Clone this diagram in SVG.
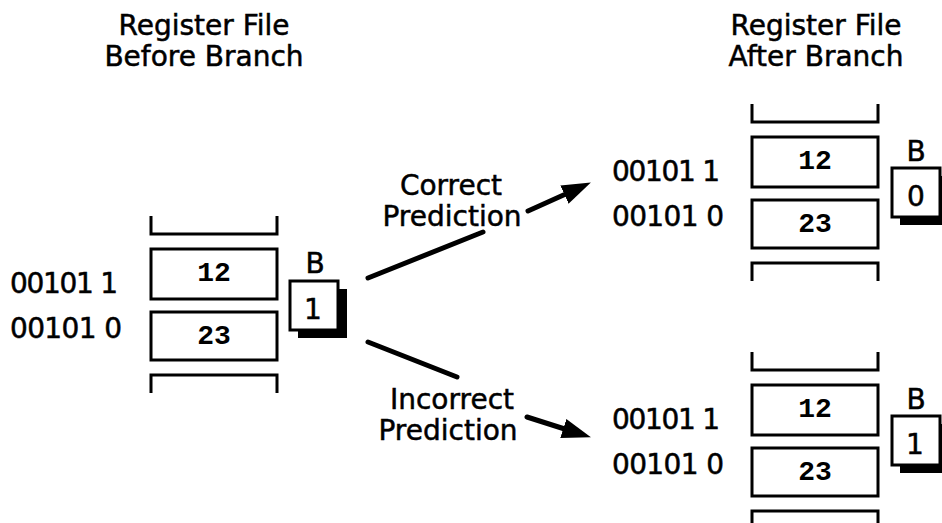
<svg xmlns="http://www.w3.org/2000/svg" width="942" height="523" viewBox="0 0 942 523">
  <style>
    .title { font-family: "DejaVu Sans", "Liberation Sans", sans-serif; font-size: 28px; fill: #000; stroke: #000; stroke-width: 0.5; text-anchor: middle; }
    .lbl { font-family: "DejaVu Sans", "Liberation Sans", sans-serif; font-size: 28px; fill: #000; stroke: #000; stroke-width: 0.5; }
    .mid { text-anchor: middle; }
    .addr { font-family: "DejaVu Sans", "Liberation Sans", sans-serif; font-size: 28px; fill: #000; stroke: #000; stroke-width: 0.5; }
    .val { font-family: "Liberation Mono", "DejaVu Sans Mono", monospace; font-size: 28px; font-weight: bold; fill: #000; text-anchor: middle; }
    .reg { fill: #fff; stroke: #000; stroke-width: 3; }
    .brk { fill: none; stroke: #000; stroke-width: 3; }
    .flag { fill: #fff; stroke: #000; stroke-width: 3; }
    .shadow { fill: #000; }
    .conn { fill: none; stroke: #000; stroke-width: 5; stroke-linecap: round; }
  </style>
  <defs>
    <marker id="head" markerUnits="userSpaceOnUse" markerWidth="30" markerHeight="22" refX="13" refY="11" orient="auto">
      <path d="M0,1 L29,11 L0,21 Z" fill="#000"/>
    </marker>
    <!-- one register file: open brackets, two registers and their values -->
    <g id="regfile">
      <path class="brk" d="M0 -33 V-15 H126 V-33"/>
      <rect class="reg" x="0" y="0" width="126" height="50"/>
      <rect class="reg" x="0" y="63" width="126" height="48"/>
      <path class="brk" d="M0 144 V126 H126 V144"/>
      <text class="val" x="63" y="32">12</text>
      <text class="val" x="63" y="95">23</text>
    </g>
  </defs>

  <!-- column headings -->
  <g id="title-before">
    <text class="title" x="204" y="35">Register File</text>
    <text class="title" x="204" y="66">Before Branch</text>
  </g>
  <g id="title-after">
    <text class="title" x="816" y="35">Register File</text>
    <text class="title" x="816" y="66">After Branch</text>
  </g>

  <!-- register file before the branch -->
  <g id="rf-before">
    <use href="#regfile" x="151" y="249"/>
    <text class="addr" x="10" y="293" textLength="108" lengthAdjust="spacing">00101 1</text>
    <text class="addr" x="10" y="338" textLength="112" lengthAdjust="spacing">00101 0</text>
  </g>
  <g id="bit-before">
    <text class="lbl mid" x="315" y="273">B</text>
    <rect class="shadow" x="298" y="289" width="49" height="49"/>
    <rect class="flag" x="290" y="281" width="48" height="49"/>
    <text class="lbl mid" x="313" y="319">1</text>
  </g>

  <!-- register file after a correct prediction -->
  <g id="rf-correct">
    <use href="#regfile" x="752" y="137"/>
    <text class="addr" x="612" y="181" textLength="108" lengthAdjust="spacing">00101 1</text>
    <text class="addr" x="612" y="226" textLength="112" lengthAdjust="spacing">00101 0</text>
  </g>
  <g id="bit-correct">
    <text class="lbl mid" x="916" y="161">B</text>
    <rect class="shadow" x="900" y="176" width="49" height="49"/>
    <rect class="flag" x="892" y="168" width="48" height="49"/>
    <text class="lbl mid" x="916" y="206">0</text>
  </g>

  <!-- register file after an incorrect prediction -->
  <g id="rf-incorrect">
    <use href="#regfile" x="752" y="385"/>
    <text class="addr" x="612" y="429" textLength="108" lengthAdjust="spacing">00101 1</text>
    <text class="addr" x="612" y="474" textLength="112" lengthAdjust="spacing">00101 0</text>
  </g>
  <g id="bit-incorrect">
    <text class="lbl mid" x="916" y="409">B</text>
    <rect class="shadow" x="900" y="424" width="49" height="49"/>
    <rect class="flag" x="892" y="416" width="48" height="49"/>
    <text class="lbl mid" x="915" y="454">1</text>
  </g>

  <!-- transition labels -->
  <g id="lbl-correct">
    <text class="lbl mid" x="451" y="195">Correct</text>
    <text class="lbl mid" x="452" y="226">Prediction</text>
  </g>
  <g id="lbl-incorrect">
    <text class="lbl mid" x="452" y="409">Incorrect</text>
    <text class="lbl mid" x="448" y="440">Prediction</text>
  </g>

  <!-- connectors -->
  <g id="connectors">
    <path class="conn" d="M368 278 L483 232 M528 211 L576.3 189.2" marker-end="url(#head)"/>
    <path class="conn" d="M368 342 L457 377 M527 417 L575.7 432.5" marker-end="url(#head)"/>
  </g>
</svg>
